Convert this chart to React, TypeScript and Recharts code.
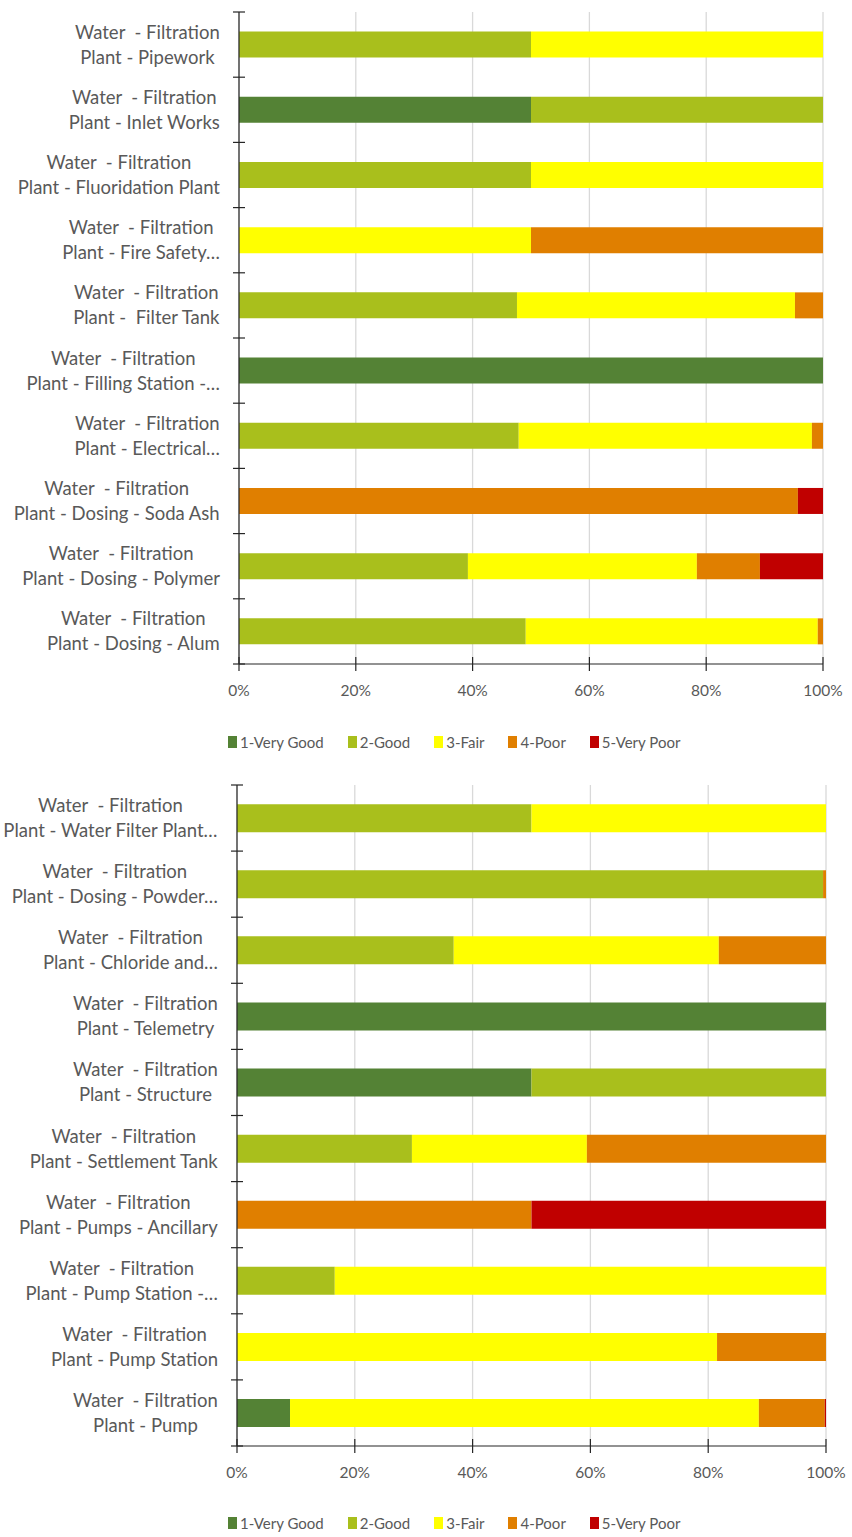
import { BarChart, Bar, XAxis, YAxis, CartesianGrid, Legend } from "recharts";

const PREFIX = "Water  - Filtration";

const topCategories = [
  "Plant - Pipework",
  "Plant - Inlet Works",
  "Plant - Fluoridation Plant",
  "Plant - Fire Safety…",
  "Plant -  Filter Tank",
  "Plant - Filling Station -…",
  "Plant - Electrical…",
  "Plant - Dosing - Soda Ash",
  "Plant - Dosing - Polymer",
  "Plant - Dosing - Alum",
];
const topVeryGood = [0, 50, 0, 0, 0, 100, 0, 0, 0, 0];
const topGood = [50, 50, 50, 0, 47.6, 0, 47.9, 0, 39.2, 49.1];
const topFair = [50, 0, 50, 50, 47.6, 0, 50.2, 0, 39.2, 50.0];
const topPoor = [0, 0, 0, 50, 4.8, 0, 1.9, 95.7, 10.8, 0.9];
const topVeryPoor = [0, 0, 0, 0, 0, 0, 0, 4.3, 10.8, 0];

const bottomCategories = [
  "Plant - Water Filter Plant…",
  "Plant - Dosing - Powder…",
  "Plant - Chloride and…",
  "Plant - Telemetry",
  "Plant - Structure",
  "Plant - Settlement Tank",
  "Plant - Pumps - Ancillary",
  "Plant - Pump Station -…",
  "Plant - Pump Station",
  "Plant - Pump",
];
const bottomVeryGood = [0, 0, 0, 100, 50, 0, 0, 0, 0, 9];
const bottomGood = [50, 99.5, 36.8, 0, 50, 29.7, 0, 16.6, 0, 0];
const bottomFair = [50, 0, 45, 0, 0, 29.7, 0, 83.4, 81.5, 79.6];
const bottomPoor = [0, 0.5, 18.2, 0, 0, 40.6, 50, 0, 18.5, 11.2];
const bottomVeryPoor = [0, 0, 0, 0, 0, 0, 50, 0, 0, 0.2];

const percentTicks = [0, 0.2, 0.4, 0.6, 0.8, 1];

const SERIES = [
  { key: "vg", name: "1-Very Good", color: "#548235" },
  { key: "g", name: "2-Good", color: "#a9bf1c" },
  { key: "f", name: "3-Fair", color: "#ffff00" },
  { key: "p", name: "4-Poor", color: "#e07f00" },
  { key: "vp", name: "5-Very Poor", color: "#c00000" },
];

const FONT = "Lato, 'Open Sans', sans-serif";
const FONT_SIZE = 15.5;
const LABEL_SIZE = 18.5;
const LEGEND_SIZE = 15;
const TEXT = "#595959";
const AXIS = "#262626";

let measureCtx: CanvasRenderingContext2D | null = null;
function textWidth(s: string) {
  if (!measureCtx) measureCtx = document.createElement("canvas").getContext("2d");
  if (!measureCtx) return s.length * 9;
  measureCtx.font = `${LABEL_SIZE}px Lato`;
  return measureCtx.measureText(s).width;
}

function buildRows(cats: string[], vg: number[], g: number[], f: number[], p: number[], vp: number[]) {
  return cats.map((name, i) => ({ name, vg: vg[i], g: g[i], f: f[i], p: p[i], vp: vp[i] }));
}

const topRows = buildRows(topCategories, topVeryGood, topGood, topFair, topPoor, topVeryPoor);
const bottomRows = buildRows(bottomCategories, bottomVeryGood, bottomGood, bottomFair, bottomPoor, bottomVeryPoor);

function CategoryTick(props: any) {
  const { x, y, payload, index, band, count } = props;
  const lines = [PREFIX, payload.value as string];
  const w = Math.max(...lines.map(textWidth));
  const cx = x - 19 - w / 2;
  return (
    <g>
      <line x1={x - 6} x2={x + 6} y1={y - band / 2} y2={y - band / 2} stroke={AXIS} strokeWidth={1.2} />
      {index === count - 1 && (
        <line x1={x - 6} x2={x + 6} y1={y + band / 2} y2={y + band / 2} stroke={AXIS} strokeWidth={1.2} />
      )}
      <text
        x={cx}
        y={y}
        textAnchor="middle"
        fill={TEXT}
        fontSize={LABEL_SIZE}
        fontFamily={FONT}
        style={{ whiteSpace: "pre" }}
      >
        <tspan x={cx} dy={-6}>{lines[0]}</tspan>
        <tspan x={cx} dy={25}>{lines[1]}</tspan>
      </text>
    </g>
  );
}

function PercentTick(props: any) {
  const { x, y, payload } = props;
  return (
    <g>
      <line x1={x} x2={x} y1={y - 7} y2={y + 7} stroke={AXIS} strokeWidth={1.2} />
      <text x={x} y={y + 32} textAnchor="middle" fill={TEXT} fontSize={FONT_SIZE} fontFamily={FONT}>
        {`${Math.round(payload.value * 100)}%`}
      </text>
    </g>
  );
}

function LegendRow(props: any) {
  const items = (props.payload || []) as any[];
  return (
    <div style={{ display: "flex", alignItems: "center", height: 20, fontFamily: FONT, fontSize: LEGEND_SIZE, color: TEXT }}>
      {items.map((it) => (
        <div key={it.value} style={{ display: "flex", alignItems: "center", marginRight: 24 }}>
          <span style={{ display: "inline-block", width: 9, height: 12, background: it.color, marginRight: 3 }} />
          <span>{it.value}</span>
        </div>
      ))}
    </div>
  );
}

type PanelProps = {
  rows: any[];
  height: number;
  margin: { top: number; right: number; bottom: number; left: number };
  axisWidth: number;
  plotHeight: number;
  gap: string;
  legendTop: number;
  legendLeft: number;
};

function Panel({ rows, height, margin, axisWidth, plotHeight, gap, legendTop, legendLeft }: PanelProps) {
  const band = plotHeight / rows.length;
  return (
    <BarChart
      width={852}
      height={height}
      data={rows}
      layout="vertical"
      stackOffset="expand"
      margin={margin}
      barCategoryGap={gap}
    >
      <CartesianGrid horizontal={false} stroke="#d9d9d9" strokeWidth={1.3} />
      <XAxis
        type="number"
        domain={[0, 1]}
        ticks={percentTicks}
        height={50}
        tickSize={0}
        tickMargin={0}
        axisLine={{ stroke: AXIS, strokeWidth: 1.2 }}
        tick={(p: any) => <PercentTick {...p} />}
      />
      <YAxis
        type="category"
        dataKey="name"
        width={axisWidth}
        interval={0}
        tickSize={0}
        tickMargin={0}
        axisLine={{ stroke: AXIS, strokeWidth: 1.2 }}
        tick={(p: any) => <CategoryTick {...p} band={band} count={rows.length} />}
      />
      {SERIES.map((s) => (
        <Bar key={s.key} dataKey={s.key} name={s.name} stackId="a" fill={s.color} isAnimationActive={false} />
      ))}
      <Legend
        layout="horizontal"
        verticalAlign="middle"
        align="center"
        wrapperStyle={{ top: legendTop, left: legendLeft, width: "auto" }}
        content={(p: any) => <LegendRow {...p} />}
      />
    </BarChart>
  );
}

export default function App() {
  return (
    <div style={{ position: "absolute", top: 0, left: 0, width: 852, height: 1537, background: "#fff" }}>
      <div style={{ position: "absolute", top: 0, left: 0 }}>
        <Panel
          rows={topRows}
          height={770}
          margin={{ top: 12, right: 29, bottom: 56, left: 0 }}
          axisWidth={239}
          plotHeight={652}
          gap="30%"
          legendTop={732}
          legendLeft={228}
        />
      </div>
      <div style={{ position: "absolute", top: 770, left: 0 }}>
        <Panel
          rows={bottomRows}
          height={767}
          margin={{ top: 15, right: 26, bottom: 41, left: 0 }}
          axisWidth={237}
          plotHeight={661}
          gap="29%"
          legendTop={743}
          legendLeft={228}
        />
      </div>
    </div>
  );
}
